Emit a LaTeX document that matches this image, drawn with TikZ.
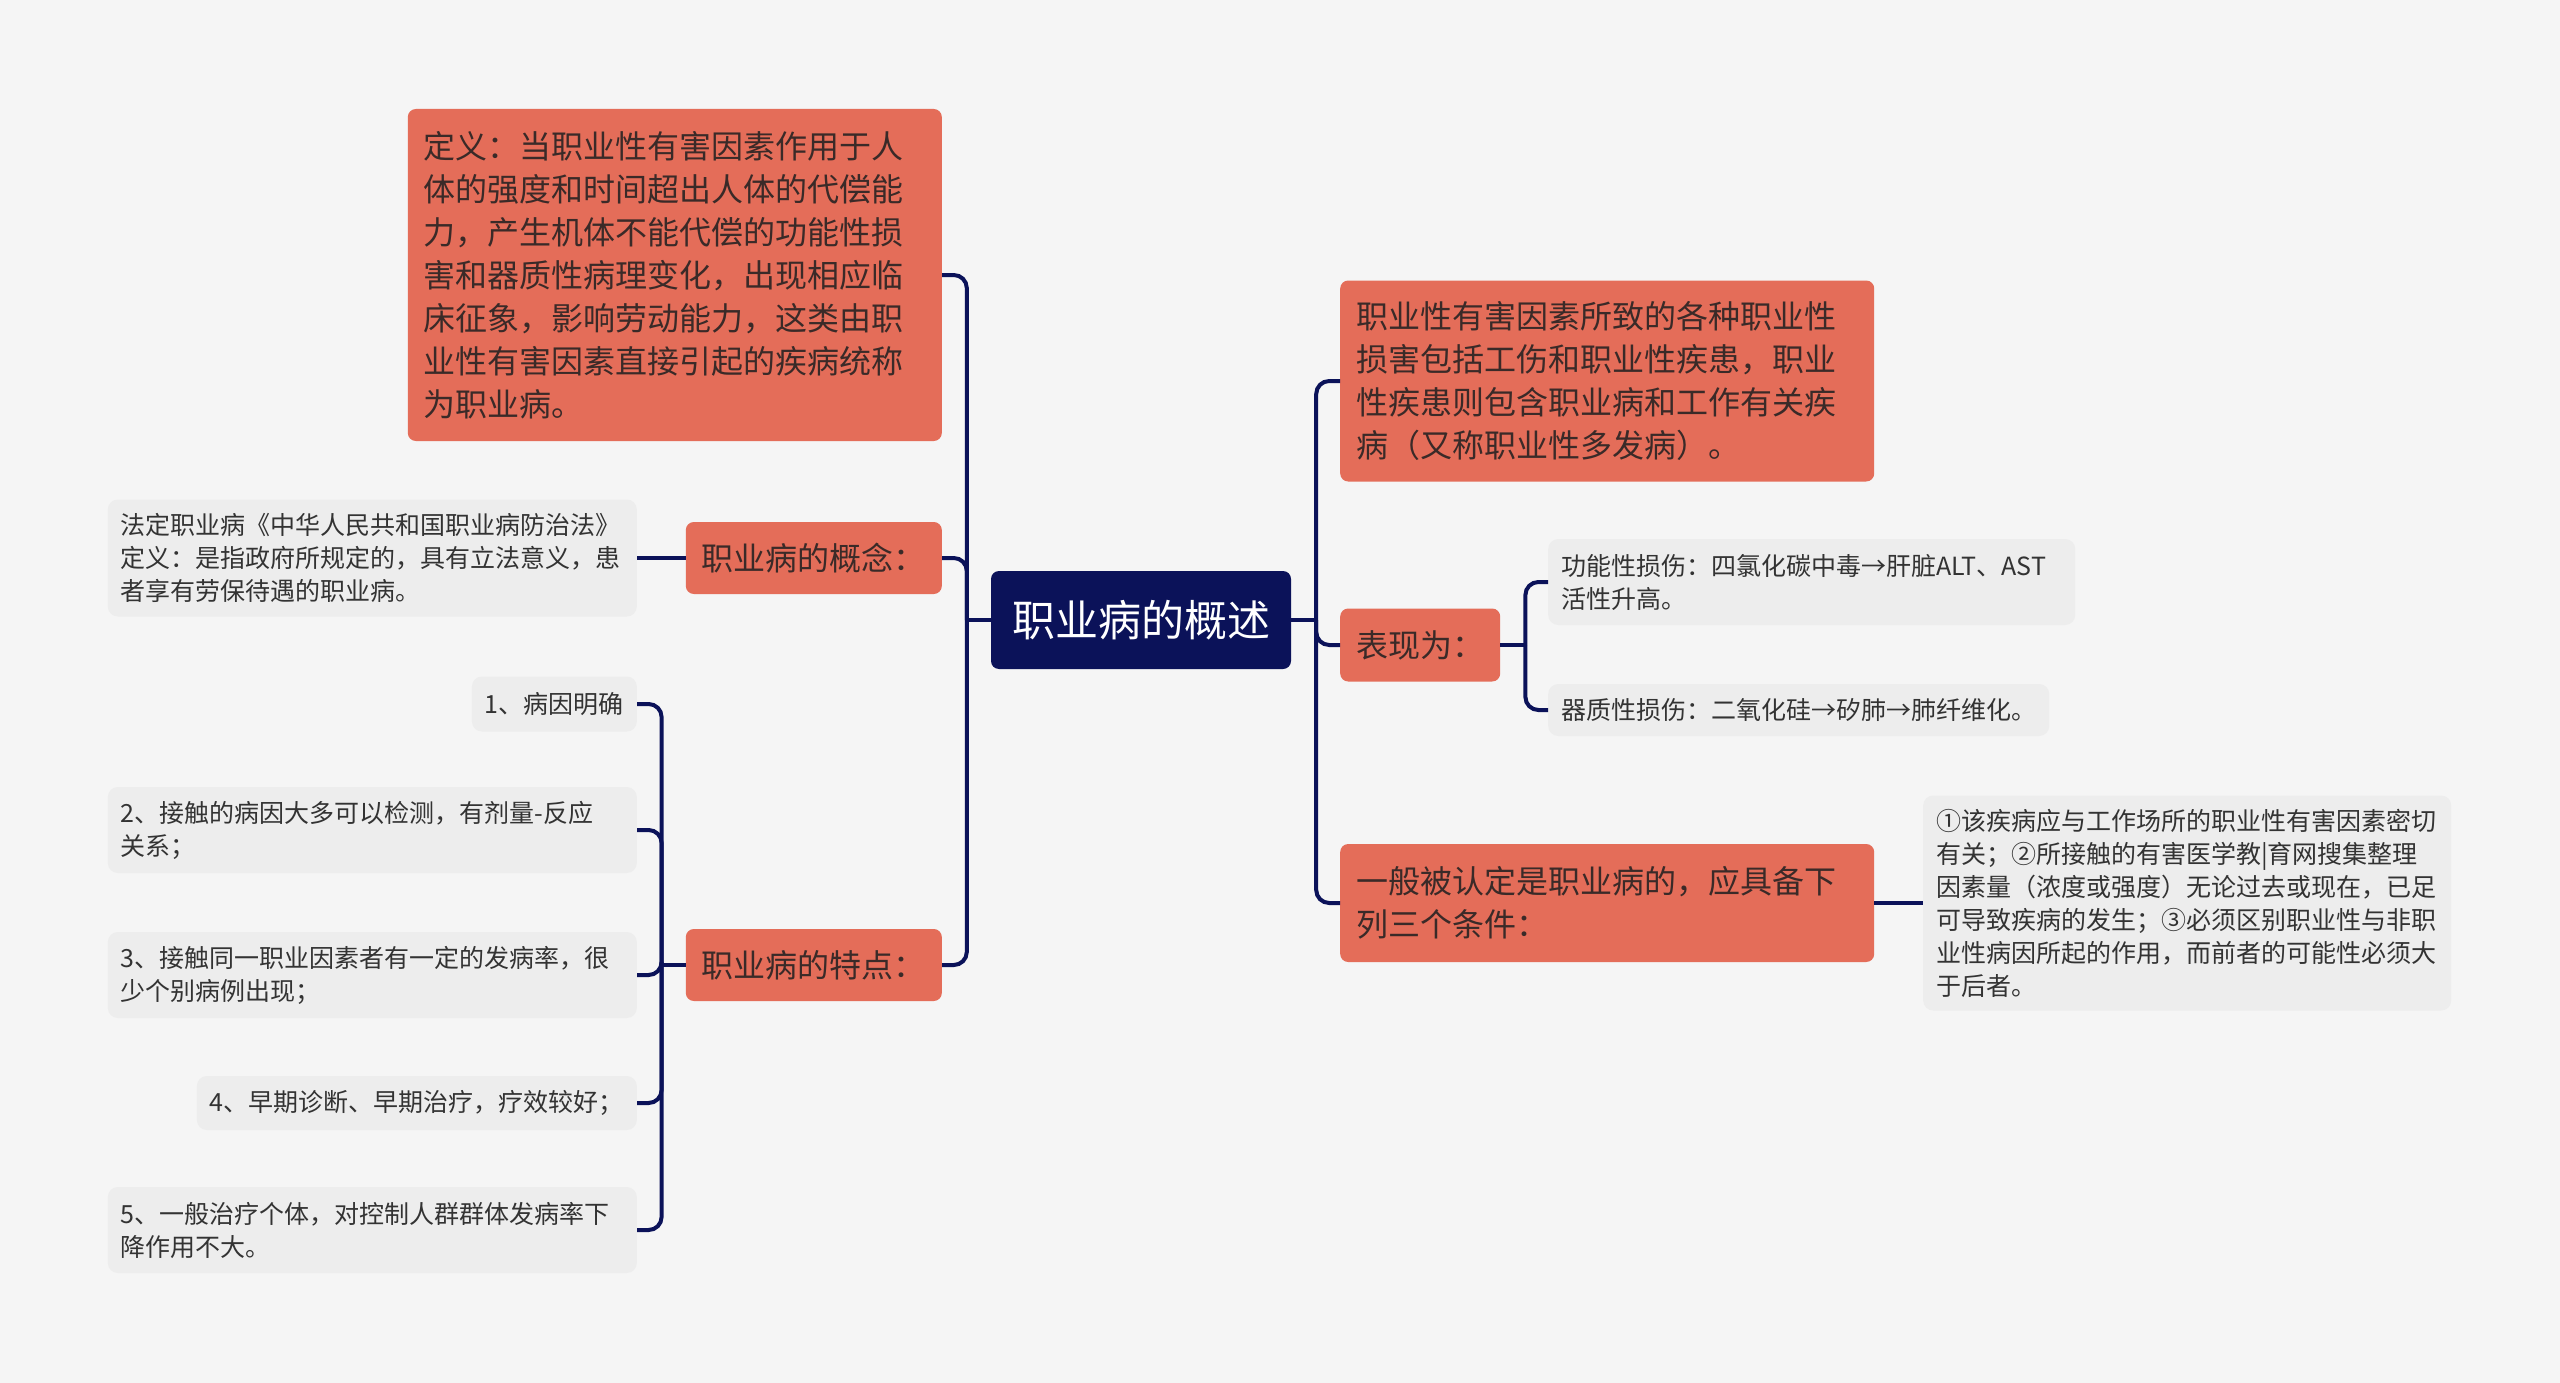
\documentclass[tikz,border=0pt]{standalone}
\usepackage{fontspec}
\setmainfont{Noto Sans CJK SC}
\definecolor{bgcol}{HTML}{F5F5F5}
\definecolor{navy}{HTML}{0B1259}
\definecolor{coral}{HTML}{E46D59}
\definecolor{leafgray}{HTML}{EDEDED}
\definecolor{ink}{HTML}{3A2A28}
\definecolor{leafink}{HTML}{333333}

\begin{document}
\begin{tikzpicture}[x=1pt, y=-1pt,
    root node/.style={rectangle, rounded corners=8pt, fill=navy, text=white,
      font=\fontsize{43}{50}\selectfont, minimum width=300pt, minimum height=98pt, inner sep=0pt},
    topic node/.style={rectangle, rounded corners=8pt, fill=coral, text=ink,
      font=\fontsize{32}{43}\selectfont, align=left, inner xsep=16pt, inner ysep=12pt},
    leaf node/.style={rectangle, rounded corners=10pt, fill=leafgray, text=leafink,
      font=\fontsize{25}{33}\selectfont, align=left, inner xsep=13pt, inner ysep=10pt},
    link/.style={draw=navy, line width=4pt},
    branch link/.style={link, rounded corners=13pt}]
  \fill[bgcol] (0,0) rectangle (2560,1383);
  \useasboundingbox (0,0) rectangle (2560,1383);

  \node[root node] (hub) at (1141,620) {职业病的概述};

  % left side
  \node[topic node, text width=502pt, minimum height=332pt, anchor=east] (define) at (942,275)
    {定义：当职业性有害因素作用于人\\体的强度和时间超出人体的代偿能\\力，产生机体不能代偿的功能性损\\害和器质性病理变化，出现相应临\\床征象，影响劳动能力，这类由职\\业性有害因素直接引起的疾病统称\\为职业病。};
  \node[topic node, minimum height=72pt, anchor=east] (concept) at (942,558) {职业病的概念：};
  \node[leaf node, text width=503pt, minimum height=117pt, anchor=east] (legal) at (637,558)
    {法定职业病《中华人民共和国职业病防治法》\\定义：是指政府所规定的，具有立法意义，患\\者享有劳保待遇的职业病。};
  \node[topic node, minimum height=72pt, anchor=east] (traits) at (942,965) {职业病的特点：};
  \node[leaf node, minimum height=55pt, anchor=east] (t1) at (637,704) {1、病因明确};
  \node[leaf node, text width=503pt, minimum height=86pt, anchor=east] (t2) at (637,830)
    {2、接触的病因大多可以检测，有剂量-反应\\关系；};
  \node[leaf node, text width=503pt, minimum height=86pt, anchor=east] (t3) at (637,975)
    {3、接触同一职业因素者有一定的发病率，很\\少个别病例出现；};
  \node[leaf node, minimum height=54pt, anchor=east] (t4) at (637,1103) {4、早期诊断、早期治疗，疗效较好；};
  \node[leaf node, text width=503pt, minimum height=86pt, anchor=east] (t5) at (637,1230)
    {5、一般治疗个体，对控制人群群体发病率下\\降作用不大。};

  % right side
  \node[topic node, text width=502pt, minimum height=201pt, anchor=west] (harm) at (1340,381)
    {职业性有害因素所致的各种职业性\\损害包括工伤和职业性疾患，职业\\性疾患则包含职业病和工作有关疾\\病（又称职业性多发病）。};
  \node[topic node, minimum height=73pt, anchor=west] (shows) at (1340,645) {表现为：};
  \node[leaf node, text width=501pt, minimum height=86pt, anchor=west] (func) at (1548,582)
    {功能性损伤：四氯化碳中毒→肝脏ALT、AST\\活性升高。};
  \node[leaf node, minimum height=52pt, anchor=west] (organ) at (1548,710)
    {器质性损伤：二氧化硅→矽肺→肺纤维化。};
  \node[topic node, text width=502pt, minimum height=118pt, anchor=west] (criteria) at (1340,903)
    {一般被认定是职业病的，应具备下\\列三个条件：};
  \node[leaf node, text width=502pt, minimum height=215pt, anchor=west] (cond) at (1923,903)
    {①该疾病应与工作场所的职业性有害因素密切\\有关；②所接触的有害医学教|育网搜集整理\\因素量（浓度或强度）无论过去或现在，已足\\可导致疾病的发生；③必须区别职业性与非职\\业性病因所起的作用，而前者的可能性必须大\\于后者。};

  \coordinate (lfork) at ([xshift=-24pt]hub.west);
  \coordinate (rfork) at ([xshift=25pt]hub.east);
  \coordinate (tfork) at ([xshift=-24pt]traits.west);
  \coordinate (sfork) at ([xshift=25pt]shows.east);

  \draw[link] (hub.west) -- (lfork);
  \draw[branch link] (lfork) |- (define.east);
  \draw[branch link] (lfork) |- (concept.east);
  \draw[branch link] (lfork) |- (traits.east);
  \draw[link] (concept.west) -- (legal.east);
  \draw[link] (traits.west) -- (tfork);
  \foreach \t in {t1,t2,t3,t4,t5}
    \draw[branch link] (tfork) |- (\t.east);

  \draw[link] (hub.east) -- (rfork);
  \draw[branch link] (rfork) |- (harm.west);
  \draw[branch link] (rfork) |- (shows.west);
  \draw[branch link] (rfork) |- (criteria.west);
  \draw[link] (shows.east) -- (sfork);
  \draw[branch link] (sfork) |- (func.west);
  \draw[branch link] (sfork) |- (organ.west);
  \draw[link] (criteria.east) -- (cond.west);
\end{tikzpicture}
\end{document}
